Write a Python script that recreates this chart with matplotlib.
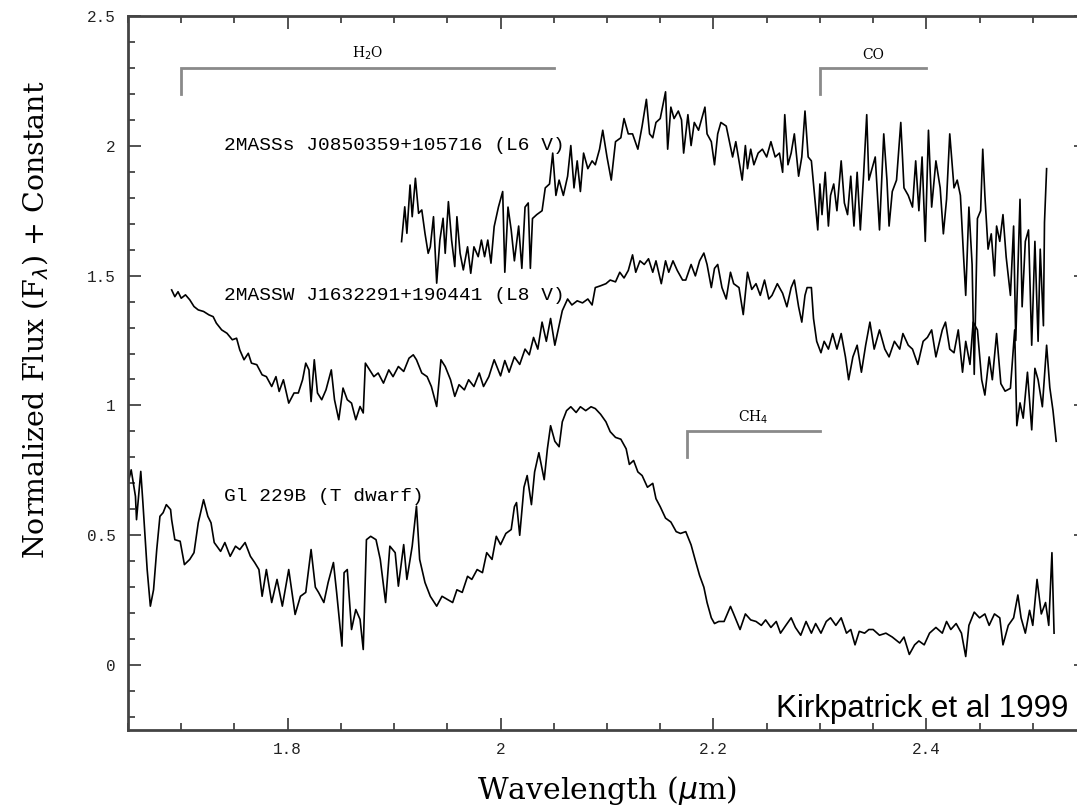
import matplotlib.pyplot as plt
from matplotlib.ticker import MultipleLocator

# Gl 229B (T dwarf), wavelength in micron, normalized flux
gl229b_wl = [1.650, 1.653, 1.657, 1.658, 1.662, 1.664, 1.668, 1.671, 1.674, 1.677,
             1.680, 1.683, 1.686, 1.690, 1.691, 1.694, 1.699, 1.703, 1.708, 1.712,
             1.716, 1.721, 1.725, 1.728, 1.731, 1.737, 1.741, 1.746, 1.751, 1.755,
             1.760, 1.765, 1.769, 1.773, 1.776, 1.780, 1.785, 1.790, 1.795, 1.801,
             1.807, 1.812, 1.817, 1.822, 1.826, 1.829, 1.834, 1.838, 1.843, 1.846,
             1.851, 1.853, 1.856, 1.860, 1.864, 1.868, 1.871, 1.874, 1.878, 1.883,
             1.887, 1.892, 1.896, 1.901, 1.904, 1.909, 1.912, 1.917, 1.921, 1.924,
             1.929, 1.934, 1.940, 1.945, 1.950, 1.955, 1.959, 1.964, 1.969, 1.973,
             1.978, 1.983, 1.987, 1.992, 1.996, 2.000, 2.005, 2.010, 2.013, 2.015,
             2.018, 2.022, 2.025, 2.029, 2.032, 2.036, 2.041, 2.044, 2.047, 2.051,
             2.055, 2.058, 2.062, 2.066, 2.071, 2.075, 2.080, 2.085, 2.089, 2.094,
             2.099, 2.103, 2.108, 2.113, 2.118, 2.121, 2.125, 2.129, 2.133, 2.138,
             2.143, 2.146, 2.150, 2.155, 2.160, 2.165, 2.169, 2.174, 2.179, 2.183,
             2.187, 2.191, 2.194, 2.198, 2.201, 2.205, 2.210, 2.216, 2.219, 2.225,
             2.230, 2.235, 2.240, 2.245, 2.249, 2.254, 2.259, 2.263, 2.268, 2.273,
             2.277, 2.282, 2.287, 2.292, 2.296, 2.301, 2.306, 2.310, 2.315, 2.320,
             2.325, 2.329, 2.333, 2.337, 2.342, 2.346, 2.350, 2.356, 2.362, 2.368,
             2.375, 2.379, 2.384, 2.389, 2.393, 2.398, 2.403, 2.409, 2.415, 2.419,
             2.423, 2.428, 2.433, 2.437, 2.440, 2.445, 2.450, 2.455, 2.459, 2.464,
             2.469, 2.472, 2.477, 2.482, 2.486, 2.489, 2.493, 2.497, 2.500, 2.504,
             2.508, 2.512, 2.515, 2.518, 2.520]
gl229b_flux = [0.70, 0.752, 0.65, 0.56, 0.746, 0.625, 0.368, 0.227, 0.29, 0.445,
               0.573, 0.587, 0.618, 0.599, 0.56, 0.483, 0.477, 0.387, 0.407, 0.433,
               0.548, 0.637, 0.573, 0.548, 0.472, 0.438, 0.472, 0.419, 0.458, 0.445,
               0.472, 0.419, 0.395, 0.368, 0.265, 0.368, 0.241, 0.33, 0.227, 0.368,
               0.195, 0.265, 0.28, 0.445, 0.30, 0.28, 0.241, 0.318, 0.395, 0.28,
               0.073, 0.356, 0.368, 0.137, 0.214, 0.176, 0.06, 0.483, 0.496, 0.483,
               0.407, 0.241, 0.458, 0.433, 0.304, 0.464, 0.33, 0.458, 0.612, 0.407,
               0.318, 0.265, 0.227, 0.265, 0.253, 0.241, 0.29, 0.28, 0.342, 0.33,
               0.368, 0.356, 0.433, 0.407, 0.496, 0.464, 0.507, 0.522, 0.61, 0.626,
               0.50, 0.685, 0.73, 0.618, 0.744, 0.818, 0.714, 0.833, 0.922, 0.862,
               0.841, 0.937, 0.98, 0.995, 0.973, 0.995, 0.98, 0.995, 0.988, 0.966,
               0.937, 0.899, 0.877, 0.87, 0.833, 0.773, 0.788, 0.744, 0.73, 0.685,
               0.70, 0.641, 0.61, 0.566, 0.551, 0.514, 0.507, 0.514, 0.463, 0.403,
               0.345, 0.30, 0.241, 0.182, 0.16, 0.168, 0.168, 0.226, 0.197, 0.137,
               0.197, 0.174, 0.168, 0.153, 0.174, 0.145, 0.168, 0.123, 0.153, 0.182,
               0.145, 0.115, 0.168, 0.123, 0.16, 0.123, 0.168, 0.182, 0.153, 0.182,
               0.123, 0.137, 0.078, 0.13, 0.123, 0.137, 0.137, 0.115, 0.123, 0.108,
               0.085, 0.108, 0.041, 0.078, 0.093, 0.078, 0.123, 0.145, 0.123, 0.168,
               0.137, 0.16, 0.123, 0.033, 0.153, 0.204, 0.182, 0.197, 0.153, 0.197,
               0.182, 0.078, 0.153, 0.182, 0.27, 0.182, 0.123, 0.211, 0.153, 0.33,
               0.197, 0.241, 0.153, 0.433, 0.123]

# 2MASSW J1632291+190441 (L8 V)
l8_wl = [1.691, 1.694, 1.697, 1.700, 1.704, 1.708, 1.712, 1.716, 1.721, 1.726,
         1.730, 1.733, 1.738, 1.743, 1.748, 1.752, 1.755, 1.759, 1.763, 1.766,
         1.771, 1.776, 1.780, 1.785, 1.789, 1.792, 1.796, 1.801, 1.806, 1.810,
         1.814, 1.817, 1.820, 1.822, 1.825, 1.828, 1.832, 1.836, 1.841, 1.844,
         1.848, 1.852, 1.856, 1.860, 1.864, 1.868, 1.871, 1.873, 1.877, 1.881,
         1.885, 1.890, 1.895, 1.899, 1.904, 1.909, 1.914, 1.918, 1.921, 1.926,
         1.931, 1.935, 1.940, 1.944, 1.948, 1.953, 1.957, 1.961, 1.966, 1.970,
         1.975, 1.980, 1.984, 1.989, 1.994, 2.000, 2.004, 2.008, 2.013, 2.018,
         2.023, 2.027, 2.031, 2.035, 2.039, 2.043, 2.047, 2.051, 2.055, 2.058,
         2.063, 2.067, 2.072, 2.077, 2.082, 2.086, 2.089, 2.094, 2.099, 2.103,
         2.108, 2.112, 2.116, 2.120, 2.124, 2.127, 2.131, 2.135, 2.139, 2.143,
         2.146, 2.151, 2.155, 2.158, 2.162, 2.166, 2.171, 2.174, 2.179, 2.183,
         2.187, 2.191, 2.194, 2.198, 2.201, 2.204, 2.208, 2.212, 2.216, 2.219,
         2.224, 2.228, 2.232, 2.236, 2.240, 2.244, 2.248, 2.252, 2.255, 2.260,
         2.265, 2.269, 2.273, 2.276, 2.280, 2.283, 2.286, 2.288, 2.292, 2.294,
         2.297, 2.301, 2.304, 2.308, 2.312, 2.316, 2.320, 2.324, 2.327, 2.331,
         2.335, 2.339, 2.343, 2.347, 2.351, 2.356, 2.361, 2.365, 2.370, 2.375,
         2.378, 2.383, 2.387, 2.392, 2.397, 2.401, 2.405, 2.409, 2.415, 2.418,
         2.422, 2.426, 2.430, 2.434, 2.437, 2.441, 2.444, 2.448, 2.452, 2.455,
         2.459, 2.462, 2.466, 2.470, 2.474, 2.479, 2.483, 2.485, 2.488, 2.491,
         2.495, 2.499, 2.502, 2.505, 2.509, 2.513, 2.516, 2.519, 2.522]
l8_flux = [1.445, 1.419, 1.438, 1.413, 1.426, 1.407, 1.381, 1.368, 1.362, 1.349,
           1.342, 1.317, 1.291, 1.278, 1.253, 1.259, 1.214, 1.176, 1.201, 1.163,
           1.157, 1.118, 1.111, 1.073, 1.111, 1.054, 1.099, 1.009, 1.048, 1.048,
           1.099, 1.163, 1.137, 1.015, 1.176, 1.048, 1.022, 1.06, 1.137, 1.022,
           0.945, 1.067, 1.022, 1.009, 0.945, 0.996, 0.971, 1.163, 1.137, 1.111,
           1.125, 1.086, 1.137, 1.111, 1.15, 1.131, 1.182, 1.195, 1.176, 1.125,
           1.111, 1.073, 0.996, 1.176, 1.15, 1.099, 1.035, 1.08, 1.06, 1.099,
           1.073, 1.125, 1.073, 1.111, 1.176, 1.114, 1.173, 1.128, 1.187, 1.158,
           1.217, 1.195, 1.262, 1.217, 1.321, 1.247, 1.335, 1.232, 1.307, 1.365,
           1.41, 1.387, 1.403, 1.395, 1.41, 1.387, 1.454, 1.461, 1.469, 1.483,
           1.476, 1.513, 1.491, 1.52, 1.58, 1.513, 1.557, 1.543, 1.565, 1.513,
           1.557, 1.469, 1.557, 1.513, 1.557, 1.52, 1.483, 1.483, 1.543, 1.499,
           1.557, 1.587, 1.543, 1.454, 1.528, 1.543, 1.454, 1.41, 1.513, 1.469,
           1.454, 1.35, 1.513, 1.447, 1.469, 1.424, 1.483, 1.41, 1.424, 1.469,
           1.432, 1.38, 1.454, 1.483, 1.38, 1.321, 1.424, 1.454, 1.454, 1.335,
           1.247, 1.203, 1.247, 1.217, 1.277, 1.217, 1.277, 1.187, 1.099, 1.187,
           1.232, 1.128, 1.232, 1.321, 1.217, 1.291, 1.217, 1.187, 1.247, 1.217,
           1.277, 1.232, 1.217, 1.158, 1.247, 1.262, 1.291, 1.187, 1.291, 1.321,
           1.217, 1.203, 1.291, 1.128, 1.247, 1.158, 1.321, 1.291, 1.099, 1.04,
           1.187, 1.099, 1.277, 1.084, 1.055, 1.066, 1.291, 0.922, 1.01, 0.951,
           1.128, 0.906, 1.143, 1.099, 0.995, 1.232, 1.069, 0.98, 0.862]

# 2MASSs J0850359+105716 (L6 V)
l6_wl = [1.907, 1.910, 1.912, 1.915, 1.917, 1.920, 1.923, 1.926, 1.929, 1.932,
         1.934, 1.937, 1.940, 1.943, 1.946, 1.948, 1.951, 1.954, 1.957, 1.959,
         1.962, 1.965, 1.969, 1.972, 1.975, 1.979, 1.982, 1.985, 1.988, 1.991,
         1.994, 1.998, 2.002, 2.004, 2.007, 2.010, 2.013, 2.017, 2.020, 2.023,
         2.026, 2.028, 2.030, 2.034, 2.039, 2.042, 2.046, 2.049, 2.052, 2.055,
         2.059, 2.063, 2.066, 2.069, 2.072, 2.075, 2.078, 2.082, 2.086, 2.089,
         2.093, 2.096, 2.100, 2.104, 2.108, 2.113, 2.116, 2.120, 2.124, 2.129,
         2.133, 2.137, 2.140, 2.143, 2.146, 2.150, 2.155, 2.157, 2.160, 2.163,
         2.167, 2.170, 2.172, 2.176, 2.179, 2.182, 2.186, 2.189, 2.192, 2.194,
         2.198, 2.201, 2.204, 2.207, 2.212, 2.215, 2.218, 2.221, 2.224, 2.227,
         2.230, 2.232, 2.235, 2.238, 2.242, 2.246, 2.250, 2.254, 2.258, 2.262,
         2.265, 2.267, 2.270, 2.273, 2.276, 2.280, 2.283, 2.286, 2.289, 2.292,
         2.295, 2.298, 2.300, 2.302, 2.305, 2.308, 2.310, 2.313, 2.316, 2.320,
         2.323, 2.326, 2.329, 2.332, 2.335, 2.338, 2.341, 2.344, 2.346, 2.349,
         2.352, 2.356, 2.360, 2.363, 2.365, 2.368, 2.372, 2.376, 2.379, 2.383,
         2.387, 2.390, 2.393, 2.396, 2.399, 2.402, 2.405, 2.409, 2.413, 2.416,
         2.419, 2.422, 2.426, 2.429, 2.432, 2.435, 2.437, 2.440, 2.443, 2.445,
         2.448, 2.451, 2.453, 2.455, 2.458, 2.461, 2.464, 2.466, 2.469, 2.472,
         2.475, 2.479, 2.482, 2.484, 2.488, 2.490, 2.493, 2.496, 2.499, 2.502,
         2.505, 2.507, 2.510, 2.511, 2.513]
l6_flux = [1.631, 1.765, 1.663, 1.849, 1.727, 1.875, 1.74, 1.753, 1.663, 1.586,
           1.611, 1.727, 1.471, 1.637, 1.721, 1.586, 1.785, 1.637, 1.535, 1.727,
           1.586, 1.522, 1.611, 1.509, 1.611, 1.573, 1.637, 1.573, 1.637, 1.548,
           1.689, 1.764, 1.824, 1.513, 1.764, 1.676, 1.557, 1.691, 1.528, 1.764,
           1.78, 1.528, 1.72, 1.735, 1.75, 1.838, 1.853, 1.972, 1.809, 1.868,
           1.809, 1.883, 2.001, 1.838, 1.942, 1.824, 1.972, 1.912, 1.942, 1.927,
           1.987, 2.06, 1.957, 1.868, 2.016, 2.031, 2.105, 2.046, 2.046, 1.987,
           2.076, 2.179, 2.046, 2.031, 2.09, 2.105, 2.208, 1.987, 2.149, 2.105,
           2.134, 2.10, 1.972, 2.12, 2.001, 2.09, 2.06, 2.105, 2.149, 2.046,
           2.016, 1.927, 2.046, 2.09, 2.076, 2.016, 1.957, 2.016, 1.942, 1.868,
           2.001, 1.912, 1.987, 1.927, 1.972, 1.987, 1.957, 2.016, 1.957, 1.972,
           1.898, 2.12, 1.927, 1.972, 2.046, 1.883, 1.957, 2.134, 1.957, 1.942,
           1.809, 1.676, 1.853, 1.735, 1.898, 1.691, 1.809, 1.853, 1.75, 1.942,
           1.78, 1.735, 1.883, 1.691, 1.898, 1.676, 1.883, 2.12, 1.868, 1.912,
           1.957, 1.676, 2.046, 1.868, 1.691, 1.824, 1.868, 2.09, 1.838, 1.809,
           1.764, 1.942, 1.75, 1.957, 1.632, 2.06, 1.764, 1.942, 1.838, 1.661,
           1.794, 2.046, 1.838, 1.868, 1.809, 1.572, 1.424, 1.764, 1.543, 1.12,
           1.72, 1.75, 1.987, 1.809, 1.602, 1.661, 1.499, 1.691, 1.632, 1.735,
           1.572, 1.424, 1.691, 1.25, 1.794, 1.38, 1.632, 1.676, 1.232, 1.632,
           1.247, 1.602, 1.307, 1.705, 1.912]

# absorption band ranges (micron)
h2o_band = (1.70, 2.05)
co_band = (2.30, 2.40)
ch4_band = (2.175, 2.30)

mono = 'Liberation Mono'
serif = 'DejaVu Serif'

fig = plt.figure(figsize=(10.77, 8.07), dpi=100)
ax = fig.add_axes([128 / 1077, 1 - 730 / 807, (1086 - 128) / 1077, (730 - 16) / 807])

for wl, fl in [(gl229b_wl, gl229b_flux), (l8_wl, l8_flux), (l6_wl, l6_flux)]:
    ax.plot(wl, fl, color='black', lw=1.2)

# band markers
band_color = '#8a8a8a'
for (x0, x1), top, bottom, label in [(h2o_band, 2.30, 2.20, r'H$_2$O'),
                                     (co_band, 2.30, 2.20, 'CO'),
                                     (ch4_band, 0.90, 0.80, r'CH$_4$')]:
    ax.plot([x0, x0, x1], [bottom, top, top], color=band_color, lw=2,
            solid_joinstyle='miter')
    ax.text((x0 + x1) / 2, top + 0.022, label, ha='center', va='bottom',
            fontsize=10, family=serif)

ax.text(1.74, 2.0, '2MASSs J0850359+105716 (L6 V)', fontsize=14, family=mono,
        va='center')
ax.text(1.74, 1.425, '2MASSW J1632291+190441 (L8 V)', fontsize=14, family=mono,
        va='center')
ax.text(1.74, 0.65, 'Gl 229B (T dwarf)', fontsize=14, family=mono, va='center')

ax.text(2.533, -0.20, 'Kirkpatrick et al 1999', fontsize=22.5,
        family='Liberation Sans', ha='right', va='baseline')

ax.set_xlim(1.65, 2.55)
ax.set_ylim(-0.25, 2.5)
ax.xaxis.set_major_locator(MultipleLocator(0.2))
ax.xaxis.set_minor_locator(MultipleLocator(0.05))
ax.yaxis.set_major_locator(MultipleLocator(0.5))
ax.yaxis.set_minor_locator(MultipleLocator(0.1))
ax.set_xticks([1.8, 2.0, 2.2, 2.4])
ax.set_xticklabels(['1.8', '2', '2.2', '2.4'])
ax.set_yticks([0, 0.5, 1, 1.5, 2, 2.5])
ax.set_yticklabels(['0', '0.5', '1', '1.5', '2', '2.5'])

ax.tick_params(which='both', direction='in', top=True, right=True,
               color='#444444', width=1.3)
ax.tick_params(which='major', length=9, labelsize=11.5, pad=9)
ax.tick_params(which='minor', length=5)
for lbl in ax.get_xticklabels() + ax.get_yticklabels():
    lbl.set_family(mono)
    lbl.set_color('#222222')
for sp in ax.spines.values():
    sp.set_color('#444444')
    sp.set_linewidth(2)

ax.set_xlabel(r'Wavelength ($\mu$m)', fontsize=21.5, family=serif)
ax.xaxis.set_label_coords(0.5, -0.062)
ax.set_ylabel(r'Normalized Flux (F$_\lambda$) + Constant', fontsize=20.5,
              family=serif)
ax.yaxis.set_label_coords(-0.08, 0.574)

fig.savefig('out.png', dpi=100)
